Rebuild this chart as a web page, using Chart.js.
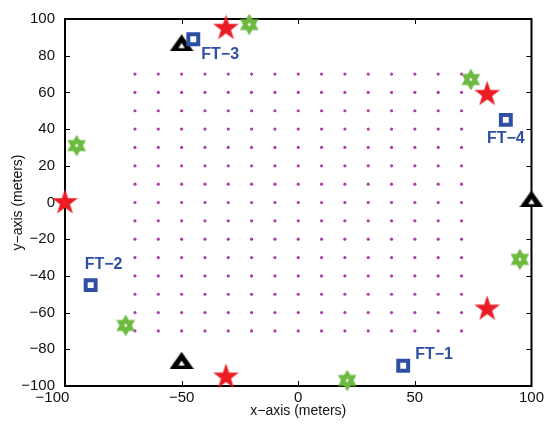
<!DOCTYPE html>
<html>
<head>
<meta charset="utf-8">
<style>
  html, body { margin: 0; padding: 0; background: #fff; }
  #wrap { width: 547px; height: 425px; }
</style>
<script src="https://cdn.jsdelivr.net/npm/chart.js@4.4.1/dist/chart.umd.min.js"></script>
</head>
<body>
<div id="wrap"><canvas id="myChart" width="547" height="425"></canvas></div>
<script>
// grid of candidate points (magenta dots)
const gridX = [-70, -60, -50, -40, -30, -20, -10, 0, 10, 20, 30, 40, 50, 60, 70];
const gridY = [-70, -60, -50, -40, -30, -20, -10, 0, 10, 20, 30, 40, 50, 60, 70];

// black triangles
const triX = [-50, -50, 100];
const triY = [87, -86, 2];

// blue squares with labels
const ftNames = ['FT-1', 'FT-2', 'FT-3', 'FT-4'];
const ftX = [45, -89, -45, 89];
const ftY = [-89, -45, 89, 45];

// red pentagrams
const starX = [-31, 81, -100, -31, 81];
const starY = [95, 59, 0, -95, -58];

// green hexagrams
const hexX = [-21, 74, -95, -74, 21, 95];
const hexY = [97, 67, 31, -67, -97, -31];

const xTicks = [-100, -50, 0, 50, 100];
const yTicks = [-100, -80, -60, -40, -20, 0, 20, 40, 60, 80, 100];

const toPts = (xs, ys) => xs.map((x, i) => ({ x: x, y: ys[i] }));
const gridPts = [];
gridY.forEach(y => gridX.forEach(x => gridPts.push({ x: x, y: y })));

const minus = s => String(s).replace(/-/g, '\u2212');

function makeStar(r, ri, color) {
  const s = Math.ceil(r * 2 + 2);
  const c = document.createElement('canvas');
  c.width = c.height = s;
  const g = c.getContext('2d');
  g.fillStyle = color;
  g.beginPath();
  for (let i = 0; i < 10; i++) {
    const a = -Math.PI / 2 + i * Math.PI / 5;
    const rr = i % 2 ? ri : r;
    g.lineTo(s / 2 + rr * Math.cos(a), s / 2 + rr * Math.sin(a));
  }
  g.closePath();
  g.fill();
  return c;
}

function makeHex(r, color) {
  const s = Math.ceil(r * 2 + 2);
  const c = document.createElement('canvas');
  c.width = c.height = s;
  const g = c.getContext('2d');
  g.fillStyle = color;
  g.beginPath();
  for (let i = 0; i < 12; i++) {
    const a = -Math.PI / 2 + i * Math.PI / 6;
    const rr = i % 2 ? r / Math.sqrt(3) : r;
    g.lineTo(s / 2 + rr * Math.cos(a), s / 2 + rr * Math.sin(a));
  }
  g.closePath();
  g.fill();
  g.fillStyle = '#fff';
  g.beginPath();
  g.arc(s / 2, s / 2, 1.4, 0, Math.PI * 2);
  g.fill();
  return c;
}

// matlab-ish '^' marker, a bit wider than tall
function makeTri(w, h, lw) {
  const c = document.createElement('canvas');
  c.width = w;
  c.height = h;
  const g = c.getContext('2d');
  const p = lw / 2;
  g.fillStyle = '#000';
  g.beginPath();
  g.moveTo(w / 2, 0);
  g.lineTo(w, h);
  g.lineTo(0, h);
  g.closePath();
  g.fill();
  // small white hole
  const cy = h * 0.7;
  const ih = h - 2 * lw - p;
  g.fillStyle = '#fff';
  g.beginPath();
  g.moveTo(w / 2, cy - ih * 0.55);
  g.lineTo(w / 2 + ih * 0.55, cy + ih * 0.3);
  g.lineTo(w / 2 - ih * 0.55, cy + ih * 0.3);
  g.closePath();
  g.fill();
  return c;
}

const starImg = makeStar(13.5, 5.3, '#ec1c24');
const hexImg = makeHex(10.8, '#6cba3f');
const triImg = makeTri(24, 17, 4.5);

// box + inward ticks like matlab
const boxPlugin = {
  id: 'box',
  beforeDatasetsDraw(chart) {
    const { ctx, chartArea: a, scales } = chart;
    ctx.save();
    ctx.strokeStyle = '#000';
    ctx.lineWidth = 2;
    ctx.strokeRect(a.left, a.top, a.right - a.left, a.bottom - a.top);
    ctx.lineWidth = 1;
    ctx.beginPath();
    xTicks.forEach(v => {
      const px = Math.round(scales.x.getPixelForValue(v)) + 0.5;
      ctx.moveTo(px, a.bottom); ctx.lineTo(px, a.bottom - 5);
      ctx.moveTo(px, a.top); ctx.lineTo(px, a.top + 5);
    });
    yTicks.forEach(v => {
      const py = Math.round(scales.y.getPixelForValue(v)) + 0.5;
      ctx.moveTo(a.left, py); ctx.lineTo(a.left + 5, py);
      ctx.moveTo(a.right, py); ctx.lineTo(a.right - 5, py);
    });
    ctx.stroke();
    ctx.restore();
  }
};

// FT labels next to the squares
const labelPlugin = {
  id: 'ftLabels',
  afterDatasetsDraw(chart) {
    const { ctx, scales } = chart;
    const offs = [[12, -11, 'left'], [-6, -20, 'left'], [8, 15, 'left'], [0, 19, 'center']];
    ctx.save();
    ctx.fillStyle = '#2e4fa3';
    ctx.font = 'bold 16px "Liberation Sans", Arial, sans-serif';
    ctx.textBaseline = 'middle';
    ftNames.forEach((name, i) => {
      const px = scales.x.getPixelForValue(ftX[i]);
      const py = scales.y.getPixelForValue(ftY[i]);
      ctx.textAlign = offs[i][2];
      ctx.fillText(minus(name), px + offs[i][0], py + offs[i][1]);
    });
    ctx.restore();
  }
};

const tickFont = { family: '"Liberation Sans", Arial, sans-serif', size: 15 };
const titleFont = { family: '"Liberation Sans", Arial, sans-serif', size: 14 };

const ctx = document.getElementById('myChart').getContext('2d');
const myChart = new Chart(ctx, {
  type: 'scatter',
  data: {
    datasets: [
      {
        data: toPts(hexX, hexY),
        pointStyle: hexImg,
        clip: false
      },
      {
        data: toPts(starX, starY),
        pointStyle: starImg,
        clip: false
      },
      {
        data: toPts(ftX, ftY),
        pointStyle: 'rect',
        pointRadius: 7,
        borderWidth: 4,
        borderColor: '#2e4fa3',
        backgroundColor: '#fff',
        clip: false
      },
      {
        data: toPts(triX, triY),
        pointStyle: triImg,
        clip: false
      },
      {
        data: gridPts,
        pointStyle: 'circle',
        pointRadius: 1.6,
        borderWidth: 0,
        backgroundColor: '#b03ca8',
        clip: false
      }
    ]
  },
  options: {
    responsive: false,
    animation: false,
    devicePixelRatio: 1,
    layout: { padding: { left: 0, right: 15, top: 17, bottom: 0 } },
    plugins: {
      legend: { display: false },
      tooltip: { enabled: false }
    },
    scales: {
      x: {
        type: 'linear',
        min: -100,
        max: 100,
        afterFit: s => { s.height = 39; },
        afterBuildTicks: s => { s.ticks = xTicks.map(v => ({ value: v })); },
        grid: { display: false, drawTicks: false },
        border: { display: false },
        ticks: {
          padding: 3,
          color: '#111',
          font: tickFont,
          maxRotation: 0,
          callback: v => v === -100 ? minus(v) + '      ' : minus(v)
        },
        title: {
          display: true,
          text: 'x\u2212axis (meters)',
          color: '#111',
          font: titleFont,
          padding: { top: 0, bottom: 5 }
        }
      },
      y: {
        type: 'linear',
        min: -100,
        max: 100,
        afterFit: s => { s.width = 65; },
        afterBuildTicks: s => { s.ticks = yTicks.map(v => ({ value: v })); },
        grid: { display: false, drawTicks: false },
        border: { display: false },
        ticks: {
          padding: 10,
          color: '#111',
          font: tickFont,
          callback: v => minus(v)
        },
        title: {
          display: true,
          text: 'y\u2212axis (meters)',
          color: '#111',
          font: titleFont,
          padding: { top: 10, bottom: 0 }
        }
      }
    }
  },
  plugins: [boxPlugin, labelPlugin]
});
</script>
</body>
</html>
